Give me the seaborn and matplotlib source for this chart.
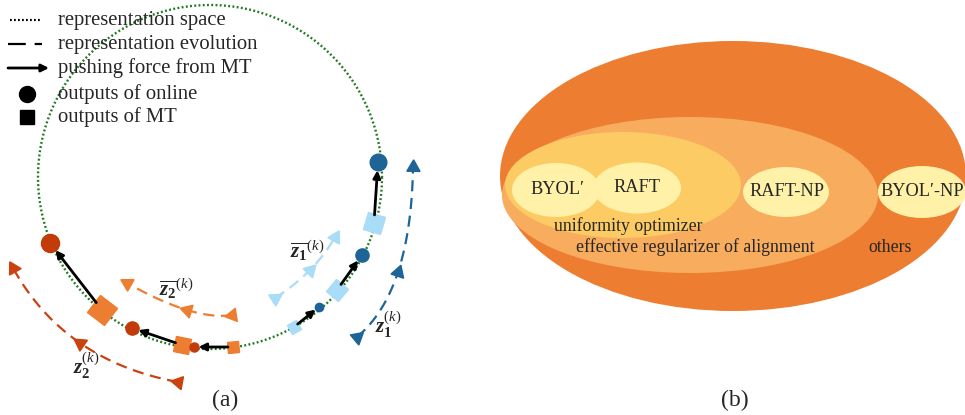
import numpy as np
import matplotlib
matplotlib.use("Agg")
import matplotlib.pyplot as plt
from matplotlib.markers import MarkerStyle
from matplotlib.transforms import Affine2D
from matplotlib.patches import Ellipse
import seaborn as sns

sns.set_theme(style="white")
plt.rcParams["font.family"] = ["Liberation Serif", "DejaVu Serif"]
plt.rcParams["mathtext.fontset"] = "custom"
plt.rcParams["mathtext.rm"] = "Liberation Serif"
plt.rcParams["mathtext.it"] = "Liberation Serif:italic"
plt.rcParams["mathtext.bf"] = "Liberation Serif:bold"
plt.rcParams["mathtext.bfit"] = "Liberation Serif:italic:bold"

# ---------------- data (pixel space of the diagram) ----------------
circle_center = (210, 177)
circle_radius = 172

# online outputs (dots) and MT outputs (squares), pairs square -> dot
red_dots_x = [50, 132, 194]
red_dots_y = [243, 328, 347]
red_dots_size = [13, 9.5, 6.5]
orange_sq_x = [102, 182, 233]
orange_sq_y = [310, 345, 347]
orange_sq_size = [15, 11, 8]

blue_dots_x = [378, 362, 319]
blue_dots_y = [162, 255, 307]
blue_dots_size = [12, 9.5, 6]
lblue_sq_x = [374, 337, 294]
lblue_sq_y = [223, 290, 327]
lblue_sq_size = [13, 11, 7.5]

# evolution arcs: start, middle, end
arc_z2 = [(178, 382), (80, 343), (13, 268)]
arc_z2bar = [(232, 315), (187, 310), (127, 283)]
arc_z1bar = [(275, 298), (310, 270), (335, 237)]
arc_z1 = [(357, 337), (398, 272), (413, 167)]

legend_labels = ["representation space", "representation evolution",
                 "pushing force from MT", "outputs of online", "outputs of MT"]

venn_labels = ["BYOL\u2032", "RAFT", "RAFT-NP", "BYOL\u2032-NP"]
venn_group_labels = ["uniformity optimizer", "effective regularizer of alignment", "others"]

# colours
C_GREEN = "#1f7a1f"
C_RED = "#C23B0B"
C_ORANGE = "#ED7D31"
C_DBLUE = "#1E6496"
C_LBLUE = "#A9DCF7"

# ---------------- figure ----------------
fig = plt.figure(figsize=(9.65, 4.15), dpi=100)
ax = fig.add_axes([0, 0, 1, 1])
ax.set_xlim(0, 965)
ax.set_ylim(415, 0)
ax.axis("off")

# representation space circle
th = np.linspace(0, 2 * np.pi, 400)
ax.plot(circle_center[0] + circle_radius * np.cos(th),
        circle_center[1] + circle_radius * np.sin(th),
        color=C_GREEN, lw=1.7, ls=(0, (0.8, 1.0)), zorder=1)


def arc(points, color):
    p0, pm, p1 = [np.array(p, float) for p in points]
    c = 2 * pm - 0.5 * (p0 + p1)
    t = np.linspace(0, 1, 80)[:, None]
    b = (1 - t) ** 2 * p0 + 2 * (1 - t) * t * c + t ** 2 * p1
    ax.plot(b[:, 0], b[:, 1], color=color, lw=1.6, ls=(0, (5, 3)), zorder=2)
    for tt in (0.0, 0.5, 1.0):
        pos = (1 - tt) ** 2 * p0 + 2 * (1 - tt) * tt * c + tt ** 2 * p1
        d = 2 * (1 - tt) * (c - p0) + 2 * tt * (p1 - c)
        rot = np.degrees(np.arctan2(-d[1], d[0])) - 90
        ax.plot(pos[0], pos[1], marker=(3, 0, rot), ms=11, color=color,
                mec=color, zorder=3)


arc(arc_z2, "#C9420F")
arc(arc_z2bar, C_ORANGE)
arc(arc_z1bar, C_LBLUE)
arc(arc_z1, C_DBLUE)


def tangent_angle(x, y):
    return np.degrees(np.arctan2(-(y - circle_center[1]), x - circle_center[0]))


def points(dx, dy, ds, sx, sy, ss, dcol, scol):
    for x0, y0, s0, x1, y1, s1 in zip(sx, sy, ss, dx, dy, ds):
        ax.annotate("", xy=(x1, y1), xytext=(x0, y0),
                    arrowprops=dict(arrowstyle="-|>", color="black", lw=2,
                                    mutation_scale=11, shrinkA=s0 * 0.45,
                                    shrinkB=s1 * 0.5),
                    zorder=5)
        m = MarkerStyle("s", transform=Affine2D().rotate_deg(tangent_angle(x0, y0)))
        ax.plot(x0, y0, marker=m, ms=s0, color=scol, mec=scol, zorder=4)
        ax.plot(x1, y1, marker="o", ms=s1, color=dcol, mec=dcol, zorder=4)


points(red_dots_x, red_dots_y, red_dots_size, orange_sq_x, orange_sq_y,
       orange_sq_size, C_RED, C_ORANGE)
points(blue_dots_x, blue_dots_y, blue_dots_size, lblue_sq_x, lblue_sq_y,
       lblue_sq_size, C_DBLUE, C_LBLUE)

# labels of the arcs
ax.text(176, 289, r"$\overline{\mathbfit{z}_{\mathbf{2}}}^{(k)}$", fontsize=15, ha="center", va="center")
ax.text(86, 366, r"$\mathbfit{z}_{\mathbf{2}}^{(k)}$", fontsize=15, ha="center", va="center")
ax.text(307, 251, r"$\overline{\mathbfit{z}_{\mathbf{1}}}^{(k)}$", fontsize=15, ha="center", va="center")
ax.text(388, 325, r"$\mathbfit{z}_{\mathbf{1}}^{(k)}$", fontsize=15, ha="center", va="center")

# legend
ly = [20, 44, 68, 94, 117]
ax.plot([10, 42], [ly[0], ly[0]], color="black", lw=1.6, ls=(0, (0.8, 1.0)))
ax.plot([8, 42], [ly[1], ly[1]], color="black", lw=1.6, ls=(0, (8, 4)))
ax.annotate("", xy=(49, ly[2]), xytext=(8, ly[2]),
            arrowprops=dict(arrowstyle="-|>", color="black", lw=2,
                            mutation_scale=11, shrinkA=0, shrinkB=0))
ax.plot(27, ly[3], marker="o", ms=11.5, color="black")
ax.plot(27, ly[4], marker="s", ms=10.5, color="black")
for y, lab in zip(ly, legend_labels):
    ax.text(58, y, lab, fontsize=14.9, ha="left", va="center")

ax.text(225, 400, "(a)", fontsize=17, ha="center", va="center")
ax.text(735, 400, "(b)", fontsize=17, ha="center", va="center")

# ---------------- panel (b) ----------------
ax.add_patch(Ellipse((733, 176), 466, 270, color="#ED7D31", lw=0, zorder=1))
ax.add_patch(Ellipse((690, 195), 376, 156, color="#F8AC5E", lw=0, zorder=2))
ax.add_patch(Ellipse((623, 185), 236, 106, color="#FDCB64", lw=0, zorder=3))
venn_x = [556, 637, 786, 922]
venn_y = [190, 188, 192, 192]
venn_w = [88, 88, 86, 88]
venn_h = [54, 51, 50, 52]
for x, y, w, h in zip(venn_x, venn_y, venn_w, venn_h):
    ax.add_patch(Ellipse((x, y), w, h, color="#FFF1A8", lw=0, zorder=4))
venn_tx = [557, 637, 787, 922]
for x, y, lab in zip(venn_tx, venn_y, venn_labels):
    ax.text(x, y - 1, lab, fontsize=13.2, ha="center", va="center", zorder=5)
ax.text(628, 226, venn_group_labels[0], fontsize=12.8, ha="center", va="center", zorder=5)
ax.text(695, 247, venn_group_labels[1], fontsize=12.8, ha="center", va="center", zorder=5)
ax.text(890, 247, venn_group_labels[2], fontsize=12.8, ha="center", va="center", zorder=5)

fig.savefig("out.png", dpi=100)
